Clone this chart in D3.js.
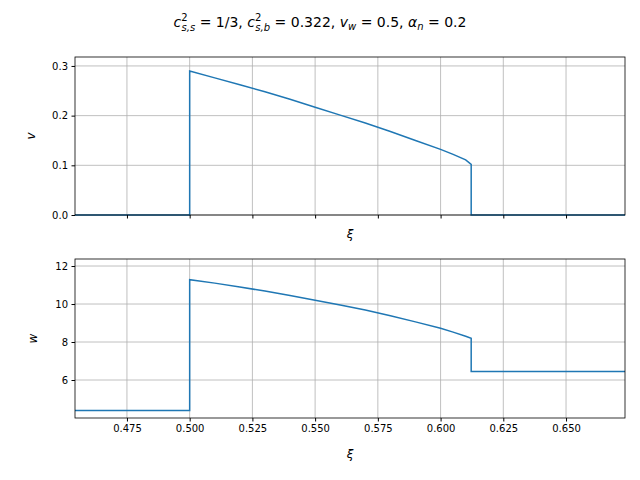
<!DOCTYPE html><html><head><script src="https://d3js.org/d3.v7.min.js"></script>
<style>body{margin:0;background:#fff}text{font-family:"DejaVu Sans",sans-serif}</style></head><body>
<svg id="c" width="640" height="480"></svg>
<script>
const xi = [0.4543,0.5,0.5,0.51,0.52,0.53,0.54,0.55,0.56,0.57,0.58,0.59,0.60,0.605,0.61,0.6122,0.6122,0.6735];
const vVals = [0,0,0.290,0.276,0.262,0.248,0.233,0.217,0.201,0.185,0.168,0.150,0.132,0.122,0.111,0.102,0,0];
const wVals = [4.4,4.4,11.28,11.1,10.9,10.68,10.45,10.2,9.95,9.68,9.38,9.06,8.72,8.52,8.3,8.2,6.45,6.45];
const xTicks = [0.475,0.5,0.525,0.55,0.575,0.6,0.625,0.65];
const vTicks = [0,0.1,0.2,0.3];
const wTicks = [6,8,10,12];
const svg = d3.select("#c");
const x = d3.scaleLinear().domain([0.4543,0.6735]).range([75,625]);
function panel(top,bottom,dom,ticks,vals,fmt,label,showX){
  const y = d3.scaleLinear().domain(dom).range([bottom,top]);
  const g = svg.append("g");
  g.selectAll(".gx").data(xTicks).enter().append("line").attr("x1",d=>x(d)).attr("x2",d=>x(d)).attr("y1",top).attr("y2",bottom).attr("stroke","#b0b0b0").attr("stroke-width",0.8);
  g.selectAll(".gy").data(ticks).enter().append("line").attr("x1",75).attr("x2",625).attr("y1",d=>y(d)).attr("y2",d=>y(d)).attr("stroke","#b0b0b0").attr("stroke-width",0.8);
  g.append("path").datum(xi).attr("fill","none").attr("stroke","#1f77b4").attr("stroke-width",1.5)
   .attr("d",d3.line().x(d=>x(d)).y((d,i)=>y(vals[i])));
  g.append("rect").attr("x",75).attr("y",top).attr("width",550).attr("height",bottom-top).attr("fill","none").attr("stroke","#000").attr("stroke-width",0.8);
  const ax=g.append("g").attr("transform",`translate(75,0)`).call(d3.axisLeft(y).tickValues(ticks).tickFormat(fmt).tickSize(3.5).tickPadding(3.5));
  ax.select(".domain").remove(); ax.selectAll("text").attr("font-size",10).attr("fill","#000");
  const bx=g.append("g").attr("transform",`translate(0,${bottom})`).call(d3.axisBottom(x).tickValues(xTicks).tickFormat(showX?d3.format(".3f"):"").tickSize(3.5).tickPadding(3.5));
  bx.select(".domain").remove(); bx.selectAll("text").attr("font-size",10).attr("fill","#000");
  g.append("text").attr("x",(75+625)/2).attr("y",bottom+(showX?40:23)).attr("text-anchor","middle").attr("font-size",12).attr("font-style","italic").text("ξ");
  g.append("text").attr("transform",`translate(${showX?37:35},${(top+bottom)/2}) rotate(-90)`).attr("text-anchor","middle").attr("font-size",12).attr("font-style","italic").text(label);
}
panel(57,215,[0,0.318],vTicks,vVals,d3.format(".1f"),"v",false);
panel(259,418,[4.0,12.37],wTicks,wVals,d3.format("d"),"w",true);
const t = svg.append("text").attr("x",320).attr("y",27).attr("text-anchor","middle").attr("font-size",14);
function ts(s,o){const e=t.append("tspan").text(s); if(o&&o.it)e.attr("font-style","italic"); if(o&&o.dy)e.attr("dy",o.dy); if(o&&o.fs)e.attr("font-size",o.fs); return e;}
ts("c",{it:1}); ts("2",{dy:-6,fs:10}); ts("s,s",{it:1,dy:0,fs:10}).attr("dx",-6).attr("dy",10); ts(" = 1/3, ",{dy:-4});
ts("c",{it:1}); ts("2",{dy:-6,fs:10}); ts("s,b",{it:1,fs:10}).attr("dx",-6).attr("dy",10); ts(" = 0.322, ",{dy:-4});
ts("v",{it:1}); ts("w",{it:1,fs:10,dy:3}); ts(" = 0.5, ",{dy:-3});
ts("α",{it:1}); ts("n",{it:1,fs:10,dy:3}); ts(" = 0.2",{dy:-3});
</script></body></html>
